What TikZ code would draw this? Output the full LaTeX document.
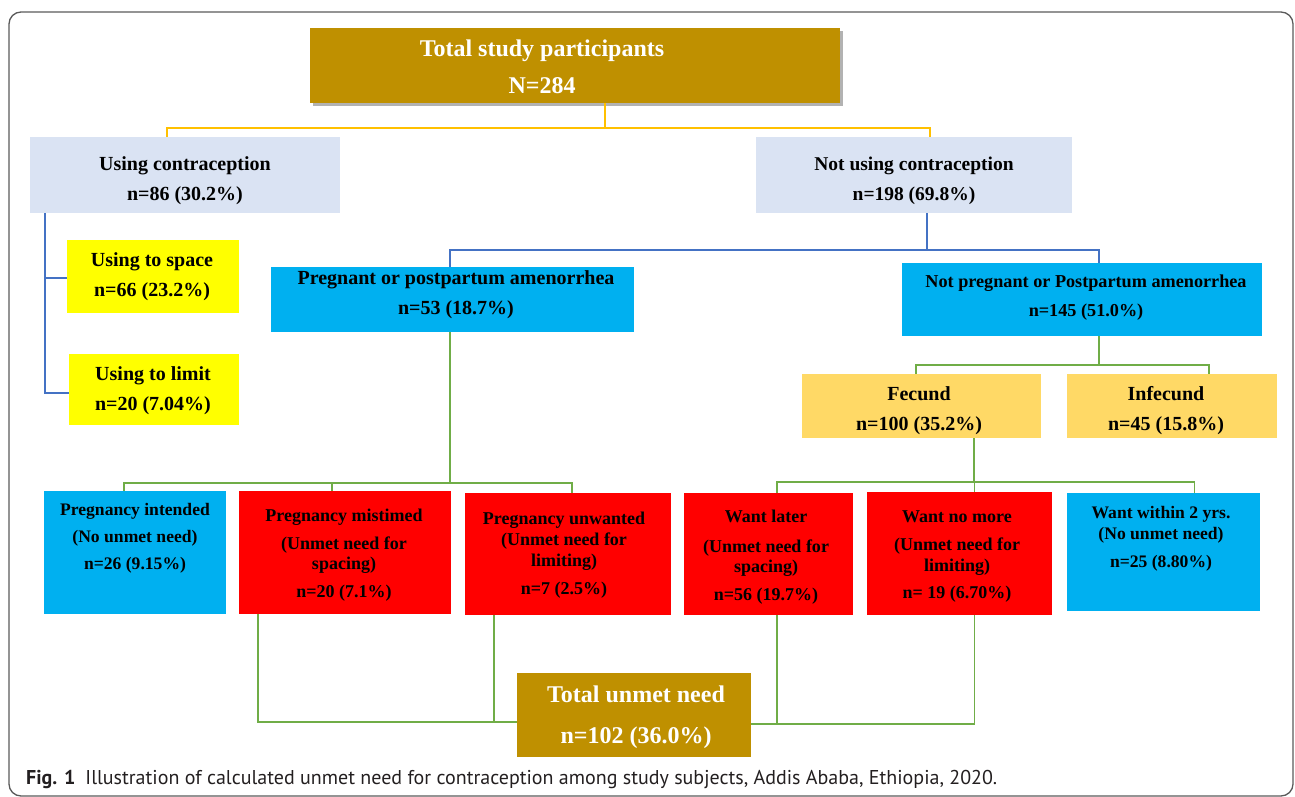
\documentclass[tikz,border=0pt]{standalone}
\usepackage{fontspec}
\setmainfont{Liberation Serif}
\newfontfamily\capfont{PT Sans}
\usetikzlibrary{fit,shadows}
\definecolor{gold}{HTML}{BF9000}
\definecolor{paleblue}{HTML}{DAE3F3}
\definecolor{cyanbox}{HTML}{00B0F0}
\definecolor{yel}{HTML}{FFFF00}
\definecolor{redbox}{HTML}{FF0000}
\definecolor{lgold}{HTML}{FFD966}
\definecolor{lineY}{HTML}{FFC000}
\definecolor{lineB}{HTML}{4472C4}
\definecolor{lineG}{HTML}{70AD47}
\definecolor{frameC}{HTML}{5A5A5A}
\definecolor{capC}{HTML}{231F20}
\begin{document}
\begin{tikzpicture}[x=1pt,y=-1pt,
  box/.style={inner sep=0pt, outer sep=0pt, draw=none},
  txt/.style={align=center, inner sep=0pt, outer sep=0pt},
  big/.style={txt, text=white, font=\bfseries\fontsize{24}{37}\selectfont},
  mid/.style={txt, font=\bfseries\fontsize{20}{30}\selectfont},
  sml/.style={txt, font=\bfseries\fontsize{18}{20}\selectfont},
  conY/.style={draw=lineY, line width=1.4pt},
  conB/.style={draw=lineB, line width=1.4pt},
  conG/.style={draw=lineG, line width=1.4pt},
]
\useasboundingbox (0,0) rectangle (1295,797);
\draw[frameC, line width=1.3pt, rounded corners=12pt] (9,12) rectangle (1293,796);

% boxes
\node[box, fill=gold, fit={(310,28)(840,103)}, drop shadow={shadow xshift=3pt, shadow yshift=-3.5pt, opacity=0.3, fill=black}] (top) {};
\node[box, fill=paleblue, fit={(30,137)(340,213)}] (usingC) {};
\node[box, fill=paleblue, fit={(756,137)(1072,213)}] (notC) {};
\node[box, fill=yel, fit={(67,240)(239,313)}] (space) {};
\node[box, fill=yel, fit={(69,354)(239,425)}] (limit) {};
\node[box, fill=cyanbox, fit={(271,267)(634,332)}] (preg) {};
\node[box, fill=cyanbox, fit={(902,263)(1262,336)}] (notPreg) {};
\node[box, fill=lgold, fit={(802,374)(1041,438)}] (fecund) {};
\node[box, fill=lgold, fit={(1067,374)(1277,438)}] (infecund) {};
\node[box, fill=cyanbox, fit={(44,491)(226,614)}] (intended) {};
\node[box, fill=redbox, fit={(239,491)(451,614)}] (mistimed) {};
\node[box, fill=redbox, fit={(465,493)(671,615)}] (unwanted) {};
\node[box, fill=redbox, fit={(684,493)(853,615)}] (wantLater) {};
\node[box, fill=redbox, fit={(867,492)(1052,615)}] (wantNo) {};
\node[box, fill=cyanbox, fit={(1067,493)(1260,611)}] (within) {};
\node[box, fill=gold, fit={(517,673)(751,757)}] (total) {};

% texts
\node[big] (topT) at (542,67) {Total study participants\\N=284};
\node[mid] (usingCT) at (185,181) {Using contraception\\n=86 (30.2\%)};
\node[mid, font=\bfseries\fontsize{19.5}{30}\selectfont] (notCT) at (914,181) {Not using contraception\\n=198 (69.8\%)};
\node[mid] (spaceT) at (152,277) {Using to space\\n=66 (23.2\%)};
\node[mid] (limitT) at (153,391) {Using to limit\\n=20 (7.04\%)};
\node[mid] (pregT) at (456,294.5) {Pregnant or postpartum amenorrhea\\n=53 (18.7\%)};
\node[mid, font=\bfseries\fontsize{18.2}{29}\selectfont] (notPregT) at (1086,298) {Not pregnant or Postpartum amenorrhea\\n=145 (51.0\%)};
\node[mid] (fecundT) at (919,410.5) {Fecund\\n=100 (35.2\%)};
\node[mid] (infecundT) at (1166,410.5) {Infecund\\n=45 (15.8\%)};
\node[sml, font=\bfseries\fontsize{17.6}{27}\selectfont] (intendedT) at (135,538) {Pregnancy intended\\(No unmet need)\\n=26 (9.15\%)};
\node[sml] (mistimedT) at (344,555) {Pregnancy mistimed\\[8pt](Unmet need for\\spacing)\\[8pt]n=20 (7.1\%)};
\node[sml, font=\bfseries\fontsize{18}{21}\selectfont] (unwantedT) at (564,555) {Pregnancy unwanted\\(Unmet need for\\limiting)\\[7pt]n=7 (2.5\%)};
\node[sml] (wantLaterT) at (766,557) {Want later\\[10pt](Unmet need for\\spacing)\\[8pt]n=56 (19.7\%)};
\node[sml, font=\bfseries\fontsize{18}{21}\selectfont] (wantNoT) at (957,557) {Want no more\\[7pt](Unmet need for\\limiting)\\[6pt]n= 19 (6.70\%)};
\node[sml, font=\bfseries\fontsize{17.6}{21}\selectfont] (withinT) at (1161,539) {Want within 2 yrs.\\(No unmet need)\\[7pt]n=25 (8.80\%)};
\node[big, font=\bfseries\fontsize{24}{41}\selectfont] (totalT) at (636,717) {Total unmet need\\n=102 (36.0\%)};

% connectors
\draw[conY] ([xshift=30pt]top.south) -- ++(0,25) -| ([xshift=-18pt]usingC.north);
\draw[conY] ([xshift=30pt]top.south) -- ++(0,25) -| ([xshift=16pt]notC.north);
\draw[conB] ([xshift=-140pt]usingC.south) |- ([yshift=-1.5pt]space.west);
\draw[conB] ([xshift=-140pt]usingC.south) |- ([yshift=-3.5pt]limit.west);
\draw[conB] ([xshift=13pt]notC.south) -- ++(0,37) -| ([xshift=-2.5pt]preg.north);
\draw[conB] ([xshift=13pt]notC.south) -- ++(0,37) -| ([xshift=17pt]notPreg.north);
\draw[conG] ([xshift=17pt]notPreg.south) -- ++(0,29) -| ([xshift=-5.5pt]fecund.north);
\draw[conG] ([xshift=17pt]notPreg.south) -- ++(0,29) -| ([xshift=37pt]infecund.north);
\draw[conG] ([xshift=-2.5pt]preg.south) -- ++(0,151) -| ([xshift=-11pt]intended.north);
\draw[conG] ([xshift=-2.5pt]preg.south) -- ++(0,151) -| ([xshift=-13pt]mistimed.north);
\draw[conG] ([xshift=-2.5pt]preg.south) -- ++(0,151) -| ([xshift=4pt]unwanted.north);
\draw[conG] ([xshift=52.5pt]fecund.south) -- ++(0,44) -| ([xshift=8.5pt]wantLater.north);
\draw[conG] ([xshift=52.5pt]fecund.south) -- ++(0,44) -| ([xshift=15pt]wantNo.north);
\draw[conG] ([xshift=52.5pt]fecund.south) -- ++(0,44) -| ([xshift=31pt]within.north);
\coordinate (jl) at ([yshift=-7pt]total.west);
\coordinate (jr) at ([yshift=-9pt]total.east);
\draw[conG] ([xshift=-87pt]mistimed.south) |- (jl);
\draw[conG] ([xshift=-74pt]unwanted.south) |- (jl);
\draw[conG] ([xshift=8.5pt]wantLater.south) |- (jr);
\draw[conG] ([xshift=15pt]wantNo.south) |- (jr);

% caption
\node[anchor=base west, inner sep=0pt, font=\capfont\fontsize{20}{22}\selectfont, text=capC] (cap) at (26,784) {\textbf{Fig. 1}\hspace{10pt}Illustration of calculated unmet need for contraception among study subjects, Addis Ababa, Ethiopia, 2020.};
\end{tikzpicture}
\end{document}
